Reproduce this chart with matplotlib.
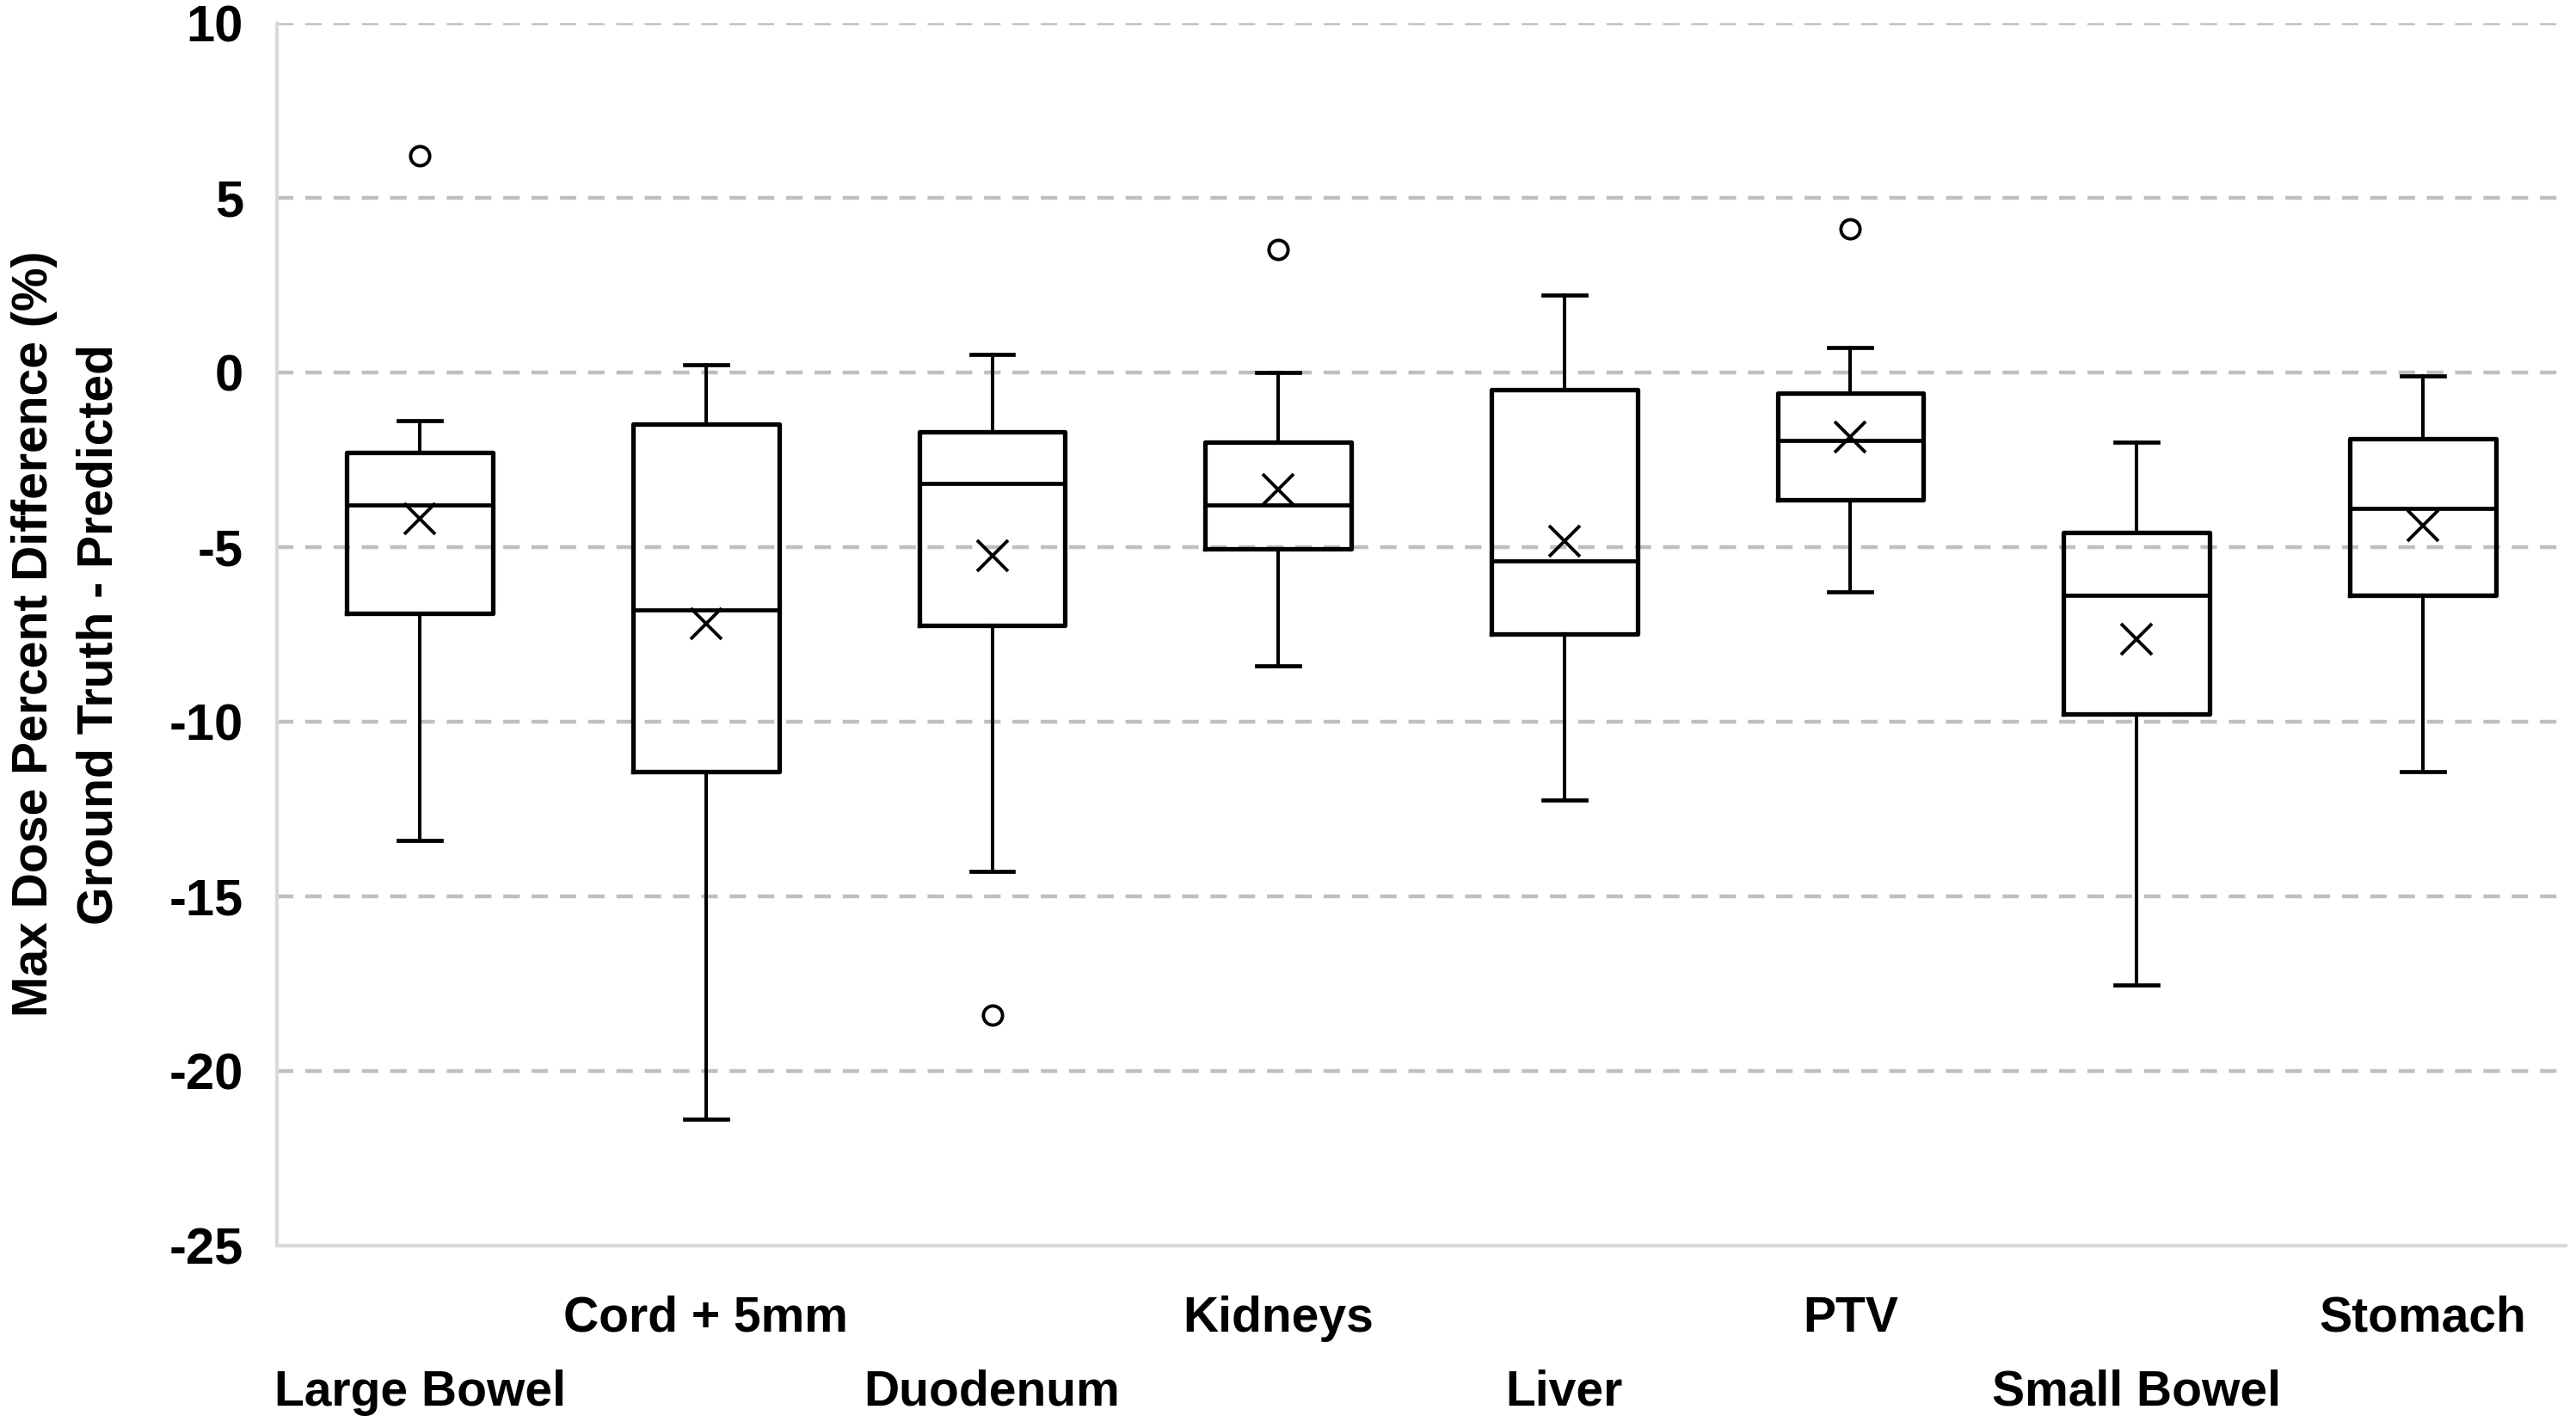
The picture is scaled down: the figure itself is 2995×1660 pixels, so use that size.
import numpy as np
import matplotlib
matplotlib.use("Agg")
import matplotlib.pyplot as plt

# valores (box plot por estrutura)
estruturas = ['Large Bowel', 'Cord + 5mm', 'Duodenum', 'Kidneys', 'Liver', 'PTV', 'Small Bowel', 'Stomach']
whisker_alto = [-1.4, 0.2, 0.5, 0.0, 2.2, 0.7, -2.0, -0.1]
q3 = [-2.3, -1.5, -1.7, -2.0, -0.5, -0.6, -4.6, -1.9]
mediana = [-3.8, -6.8, -3.2, -3.8, -5.4, -1.95, -6.4, -3.9]
media = [-4.2, -7.2, -5.25, -3.35, -4.85, -1.85, -7.65, -4.4]
q1 = [-6.9, -11.45, -7.25, -5.05, -7.5, -3.65, -9.8, -6.4]
whisker_baixo = [-13.4, -21.4, -14.3, -8.4, -12.25, -6.3, -17.55, -11.45]
outliers = [[6.2], [], [-18.4], [3.5], [], [4.1], [], []]

yticks = [-25, -20, -15, -10, -5, 0, 5, 10]

plt.rcParams['font.family'] = ['Liberation Sans', 'DejaVu Sans']
plt.rcParams['font.weight'] = 'bold'

fig = plt.figure(figsize=(29.95, 16.6), dpi=100)
ax = fig.add_axes([0.1075, 0.128, 0.8885, 0.856])

stats = []
for i, nome in enumerate(estruturas):
    stats.append({
        'label': nome,
        'whishi': whisker_alto[i],
        'q3': q3[i],
        'med': mediana[i],
        'mean': media[i],
        'q1': q1[i],
        'whislo': whisker_baixo[i],
        'fliers': outliers[i],
    })

posicoes = np.arange(1, len(estruturas) + 1)
ax.bxp(stats, positions=posicoes, widths=0.51, capwidths=0.15,
       showmeans=True, showfliers=True,
       boxprops=dict(color='black', linewidth=3.8),
       whiskerprops=dict(color='black', linewidth=2.9),
       capprops=dict(color='black', linewidth=3.4),
       medianprops=dict(color='black', linewidth=3.4),
       meanprops=dict(marker='x', markeredgecolor='black', markersize=26, markeredgewidth=2.8),
       flierprops=dict(marker='o', markerfacecolor='none', markeredgecolor='black',
                       markersize=16, markeredgewidth=2.8),
       zorder=3)

ax.set_xlim(0.5, len(estruturas) + 0.5)
ax.set_ylim(-25, 10)
ax.set_yticks(yticks)
ax.set_yticklabels([str(v) for v in yticks], fontsize=43, fontweight='bold')
ax.tick_params(axis='y', length=0, pad=28)
ax.set_xticks([])

# linhas de grade tracejadas
for v in yticks:
    if v > -25:
        ax.axhline(v, color='#bfbfbf', linewidth=3.2, linestyle=(0, (4.3, 3.1)), zorder=1)

for s in ['top', 'right']:
    ax.spines[s].set_visible(False)
for s in ['left', 'bottom']:
    ax.spines[s].set_color('#d9d9d9')
    ax.spines[s].set_linewidth(3)

# rotulos das categorias em duas linhas alternadas
for i, nome in enumerate(estruturas):
    desloc = -134 if i % 2 == 0 else -72
    ax.annotate(nome, xy=(posicoes[i], 0), xycoords=('data', 'axes fraction'),
                xytext=(0, desloc), textcoords='offset points',
                ha='center', va='baseline', fontsize=41, fontweight='bold')

fig.text(0.0134, 0.556, 'Max Dose Percent Difference (%)', rotation=90,
         ha='center', va='center', fontsize=41, fontweight='bold')
fig.text(0.0385, 0.556, 'Ground Truth - Predicted', rotation=90,
         ha='center', va='center', fontsize=41, fontweight='bold')

fig.savefig('out.png', dpi=100, facecolor='white')
